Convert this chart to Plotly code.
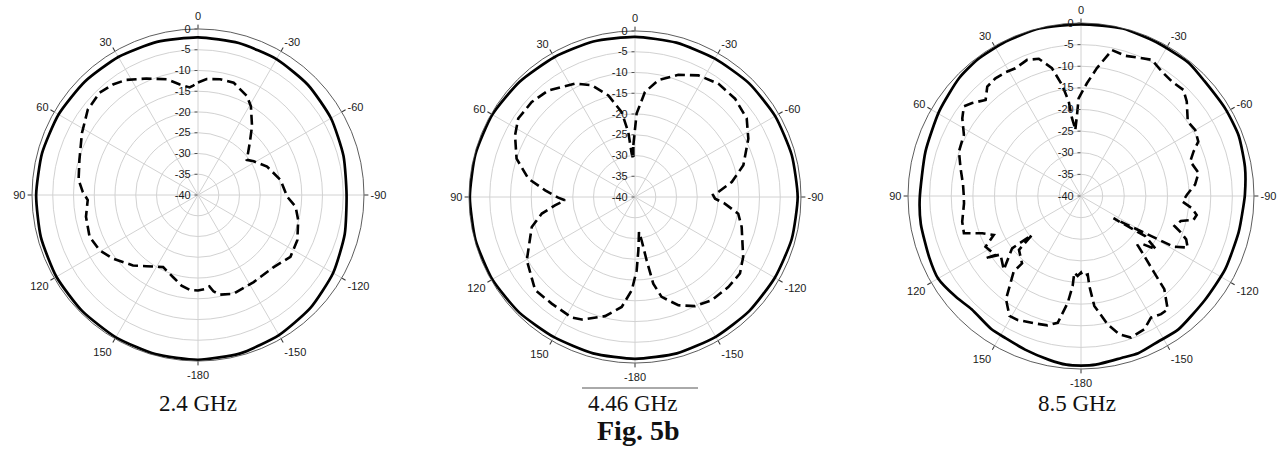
import plotly.graph_objects as go

# ---------------- data (angle in degrees, gain in dB) ----------------
ang_ticks = [0, 30, 60, 90, 120, 150, 180, 210, 240, 270, 300, 330]
ang_labels = ["0", "30", "60", "90", "120", "150", "-180", "-150", "-120", "-90", "-60", "-30"]
rad_ticks = [-40, -35, -30, -25, -20, -15, -10, -5, 0]
rad_labels = ["-40", "-35", "-30", "-25", "-20", "-15", "-10", "-5", "0"]
captions = ["2.4 GHz", "4.46 GHz", "8.5 GHz"]
fig_label = "Fig. 5b"

# 2.4 GHz
th_24_solid = [0, 15, 30, 45, 60, 75, 90, 105, 120, 135, 150, 165, 180,
               -165, -150, -135, -120, -105, -90, -75, -60, -45, -30, -15, 0]
r_24_solid = [-2.0, -1.8, -1.6, -1.4, -1.2, -1.1, -1.0, -0.8, -0.6, -0.5, -0.4, -0.3, -0.3,
              -0.5, -1.0, -1.6, -2.4, -3.4, -4.2, -3.7, -3.0, -2.5, -2.2, -2.1, -2.0]
th_24_dash = [0, -4.3, -10.8, -17.6, -26.3, -30.8, -38.1, -44.8, -54.3, -58.9, -67.6, -79.6,
              -91.1, -96.9, -104.1, -114.5, -123.8, -133.6, -147.4, -160.2, -167.5, -170.9,
              -172.9, -175.7, 180, 175.2, 169.7, 163.2, 154.2, 144.0, 137.3, 126.8, 119.3,
              111.1, 101.0, 92.6, 88.3, 82.8, 73.5, 61.9, 52.2, 43.9, 37.6, 32.0, 23.9, 15.2,
              9.3, 4.5, 2.5, 0]
r_24_dash = [-12.9, -12.0, -11.6, -11.6, -13.4, -15.1, -18.9, -22.3, -25.5, -24.3, -22.0, -19.8,
             -18.5, -16.3, -15.1, -13.7, -13.2, -14.8, -15.1, -14.7, -15.4, -16.5,
             -17.8, -17.3, -17.0, -17.05, -17.8, -19.3, -20.7, -18.8, -16.9, -14.4, -12.8,
             -12.0, -12.5, -13.4, -12.2, -11.0, -10.2, -8.3, -6.4, -5.8, -6.4, -7.3, -9.3, -11.1,
             -13.0, -14.0, -13.6, -12.9]

# 4.46 GHz
th_446_solid = [0, 15, 30, 45, 60, 75, 90, 105, 120, 135, 150, 165, 180,
                -165, -150, -135, -120, -105, -90, -75, -60, -45, -30, -15, 0]
r_446_solid = [-1.4, -1.2, -1.1, -0.7, -0.3, -0.2, -0.2, -0.2, -0.3, -0.6, -1.0, -1.0, -1.0,
               -1.0, -1.1, -1.1, -1.1, -0.9, -0.8, -0.9, -1.0, -1.2, -1.5, -1.5, -1.4]
th_446_dash = [1.8, -1.1, -5.4, -11.3, -19.5, -27.5, -36.3, -45.5, -54.9, -62.8, -73.7, -81.2,
               -86.6, -88.5, -91.2, -94.2, -99.2, -105.7, -119.0, -126.1, -134.0, -143.4,
               -151.2, -158.2, -165.1, -168.1, -169.6, -171.3, -173.5, -176.4, -178.7, 178.0,
               173.1, 165.9, 156.5, 152.3, 142.0, 133.0, 120.3, 106.2, 100.1, 95.9, 92.7, 90.5,
               85.8, 80.2, 72.05, 62.8, 56.1, 47.4, 39.1, 27.9, 21.2, 14.7, 8.9, 5.9, 4.4, 2.5, 1.8]
r_446_dash = [-27.5, -19.9, -14.6, -11.3, -8.75, -6.95, -6.1, -6.2, -7.1, -9.3, -12.8, -16.4,
              -19.9, -21.2, -20.7, -18.3, -14.8, -13.3, -10.2, -8.7, -8.75, -9.0,
              -10.0, -11.9, -15.1, -18.65, -24.5, -29.4, -31.5, -27.1, -22.3, -17.5,
              -13.3, -10.4, -7.8, -7.2, -7.4, -7.1, -9.8, -14.1, -17.2, -20.6, -23.1, -21.5,
              -18.3, -13.9, -10.0, -7.5, -6.1, -6.2, -6.9, -9.1, -11.1, -14.7, -19.3, -24.3, -29.5, -31.0, -27.5]

# 8.5 GHz
th_85_solid = [0, 14, 26, 37, 46, 59, 74, 91, 100, 112, 120, 129, 136, 146, 152, 160, 169, 175, 180,
               -175, -166, -160, -152, -144, -130, -117, -103, -94, -89.5, -80, -69, -59, -47,
               -39, -26, -14, 0]
r_85_solid = [-0.3, -0.1, -0.3, -0.4, -0.8, -1.8, -2.6, -2.7, -2.4, -2.15, -1.85, -2.85, -3.6, -2.9,
              -2.8, -2.2, -1.4, -0.85, -0.8, -0.85, -1.4, -1.3, -1.9, -1.8, -2.6, -2.6, -2.6, -2.4,
              -2.1, -1.5, -0.96, -1.0, -1.0, -0.4, -0.4, -0.1, -0.3]
th_85_dash = [4.8, 2.8, 1.4, -3.0, -7.1, -12.0, -17.5, -22.6, -27.5, -33.0, -38.4, -44.0, -48.2,
              -55.1, -59.9, -65.1, -68.4, -72.4, -78.9, -84.3, -89.3, -93.2, -96.3, -99.3,
              -102.0, -104.0, -107.8, -110.1, -112.4, -115.8, -118.7, -124.4, -122.0, -125.4,
              -128.0, -131.0, -133.5, -136.3, -138.2, -142.6, -145.9, -150.1, -154.6, -160.6,
              -164.5, -168.3, -173.1, -174.7, -175.1, -178.8, 180, 177.6, 175.0, 174.7, 172.9,
              169.6, 165.5, 159.9, 152.9, 149.2, 144.0, 138.3, 138.8, 131.0, 128.5, 127.2,
              133.7, 126.0, 123.1, 124.6, 118.0, 114.1, 110.7, 107.6, 102.2, 93.6, 90.0, 84.5,
              76.9, 69.9, 62.4, 56.8, 52.6, 49.5, 44.8, 40.6, 36.0, 31.4, 27.2, 21.6, 17.1,
              12.8, 9.7, 7.4, 6.6, 4.8]
r_85_dash = [-24.5, -21.2, -17.4, -13.9, -10.2, -5.5, -6.0, -5.35, -4.5, -5.7, -6.2, -5.9, -7.2,
             -9.9, -9.5, -10.1, -12.0, -13.5, -12.3, -13.5, -15.5, -16.5, -14.2, -12.9,
             -13.4, -16.2, -17.3, -15.4, -13.7, -12.6, -15.6, -30.9, -22.5, -18.7,
             -22.0, -22.6, -19.8, -15.5, -11.1, -7.0, -7.0, -7.55, -5.9, -5.3,
             -6.8, -9.7, -14.4, -19.1, -21.8, -21.5, -22.3, -21.5, -22.2, -19.1, -15.1,
             -10.2, -9.1, -8.65, -7.8, -7.7, -10.5, -16.6, -19.3, -21.0, -25.5, -20.0,
             -15.3, -17.0, -13.65, -16.0, -15.0, -17.9, -15.6, -11.6, -11.9, -12.9, -12.9, -12.6,
             -11.4, -9.95, -9.45, -7.2, -5.9, -6.9, -8.7, -6.7, -6.35, -6.5, -6.8, -6.15, -6.8,
             -9.7, -13.9, -18.0, -21.9, -24.5]

# ---------------- figure ----------------
W, H = 1282, 451
fig = go.Figure()

panels = [
    ("polar", th_24_solid, r_24_solid, th_24_dash, r_24_dash),
    ("polar2", th_446_solid, r_446_solid, th_446_dash, r_446_dash),
    ("polar3", th_85_solid, r_85_solid, th_85_dash, r_85_dash),
]
for name, ths, rs, thd, rd in panels:
    fig.add_trace(go.Scatterpolar(theta=ths, r=rs, mode="lines", subplot=name,
                                  line=dict(color="black", width=2.7, shape="spline", smoothing=0.6),
                                  showlegend=False, hoverinfo="skip"))
    fig.add_trace(go.Scatterpolar(theta=thd, r=rd, mode="lines", subplot=name,
                                  line=dict(color="black", width=2.6, dash="10px,5px"),
                                  showlegend=False, hoverinfo="skip"))

def dom(cx, cy, rad):
    return dict(x=[(cx - rad) / W, (cx + rad) / W],
                y=[(H - cy - rad) / H, (H - cy + rad) / H])

tick_font = dict(family="Liberation Sans, Arial", size=11, color="#1a1a1a")

def polar_layout(cx, cy, rad):
    return dict(
        domain=dom(cx, cy, rad),
        bgcolor="white",
        radialaxis=dict(range=[-40, 0], tickvals=rad_ticks, ticktext=rad_labels,
                        angle=90, side="counterclockwise", tickangle=90,
                        showline=False, gridcolor="#d2d2d2", gridwidth=0.8,
                        ticks="outside", ticklen=3, tickcolor="#555",
                        tickfont=tick_font),
        angularaxis=dict(rotation=90, direction="counterclockwise",
                         tickmode="array", tickvals=ang_ticks, ticktext=ang_labels,
                         showline=True, linecolor="#333", linewidth=0.8,
                         gridcolor="#d2d2d2", gridwidth=0.8,
                         ticks="outside", ticklen=4, tickcolor="#333",
                         tickfont=tick_font),
    )

fig.update_layout(
    width=W, height=H,
    margin=dict(l=0, r=0, t=0, b=0),
    paper_bgcolor="white",
    font=dict(color="#1a1a1a"),
    showlegend=False,
    polar=polar_layout(198, 195, 166),
    polar2=polar_layout(635, 197, 166),
    polar3=polar_layout(1081, 196, 173),
)

cap_x = [198, 632, 1077]
for txt, cx in zip(captions, cap_x):
    fig.add_annotation(text=txt, x=cx / W, y=(H - 403) / H, xref="paper", yref="paper",
                       showarrow=False, xanchor="center", yanchor="middle",
                       font=dict(family="Liberation Serif, Times New Roman", size=23, color="#111"))
fig.add_annotation(text="<b>" + fig_label + "</b>", x=638 / W, y=(H - 430) / H,
                   xref="paper", yref="paper", showarrow=False,
                   xanchor="center", yanchor="middle",
                   font=dict(family="Liberation Serif, Times New Roman", size=28, color="#111"))
fig.add_shape(type="line", xref="paper", yref="paper",
              x0=582 / W, x1=698 / W, y0=(H - 388) / H, y1=(H - 388) / H,
              line=dict(color="#555", width=1))

fig.write_html("out.html",
               config={"displayModeBar": False},
               post_script="document.body.style.margin='0px';document.body.style.overflow='hidden';")
